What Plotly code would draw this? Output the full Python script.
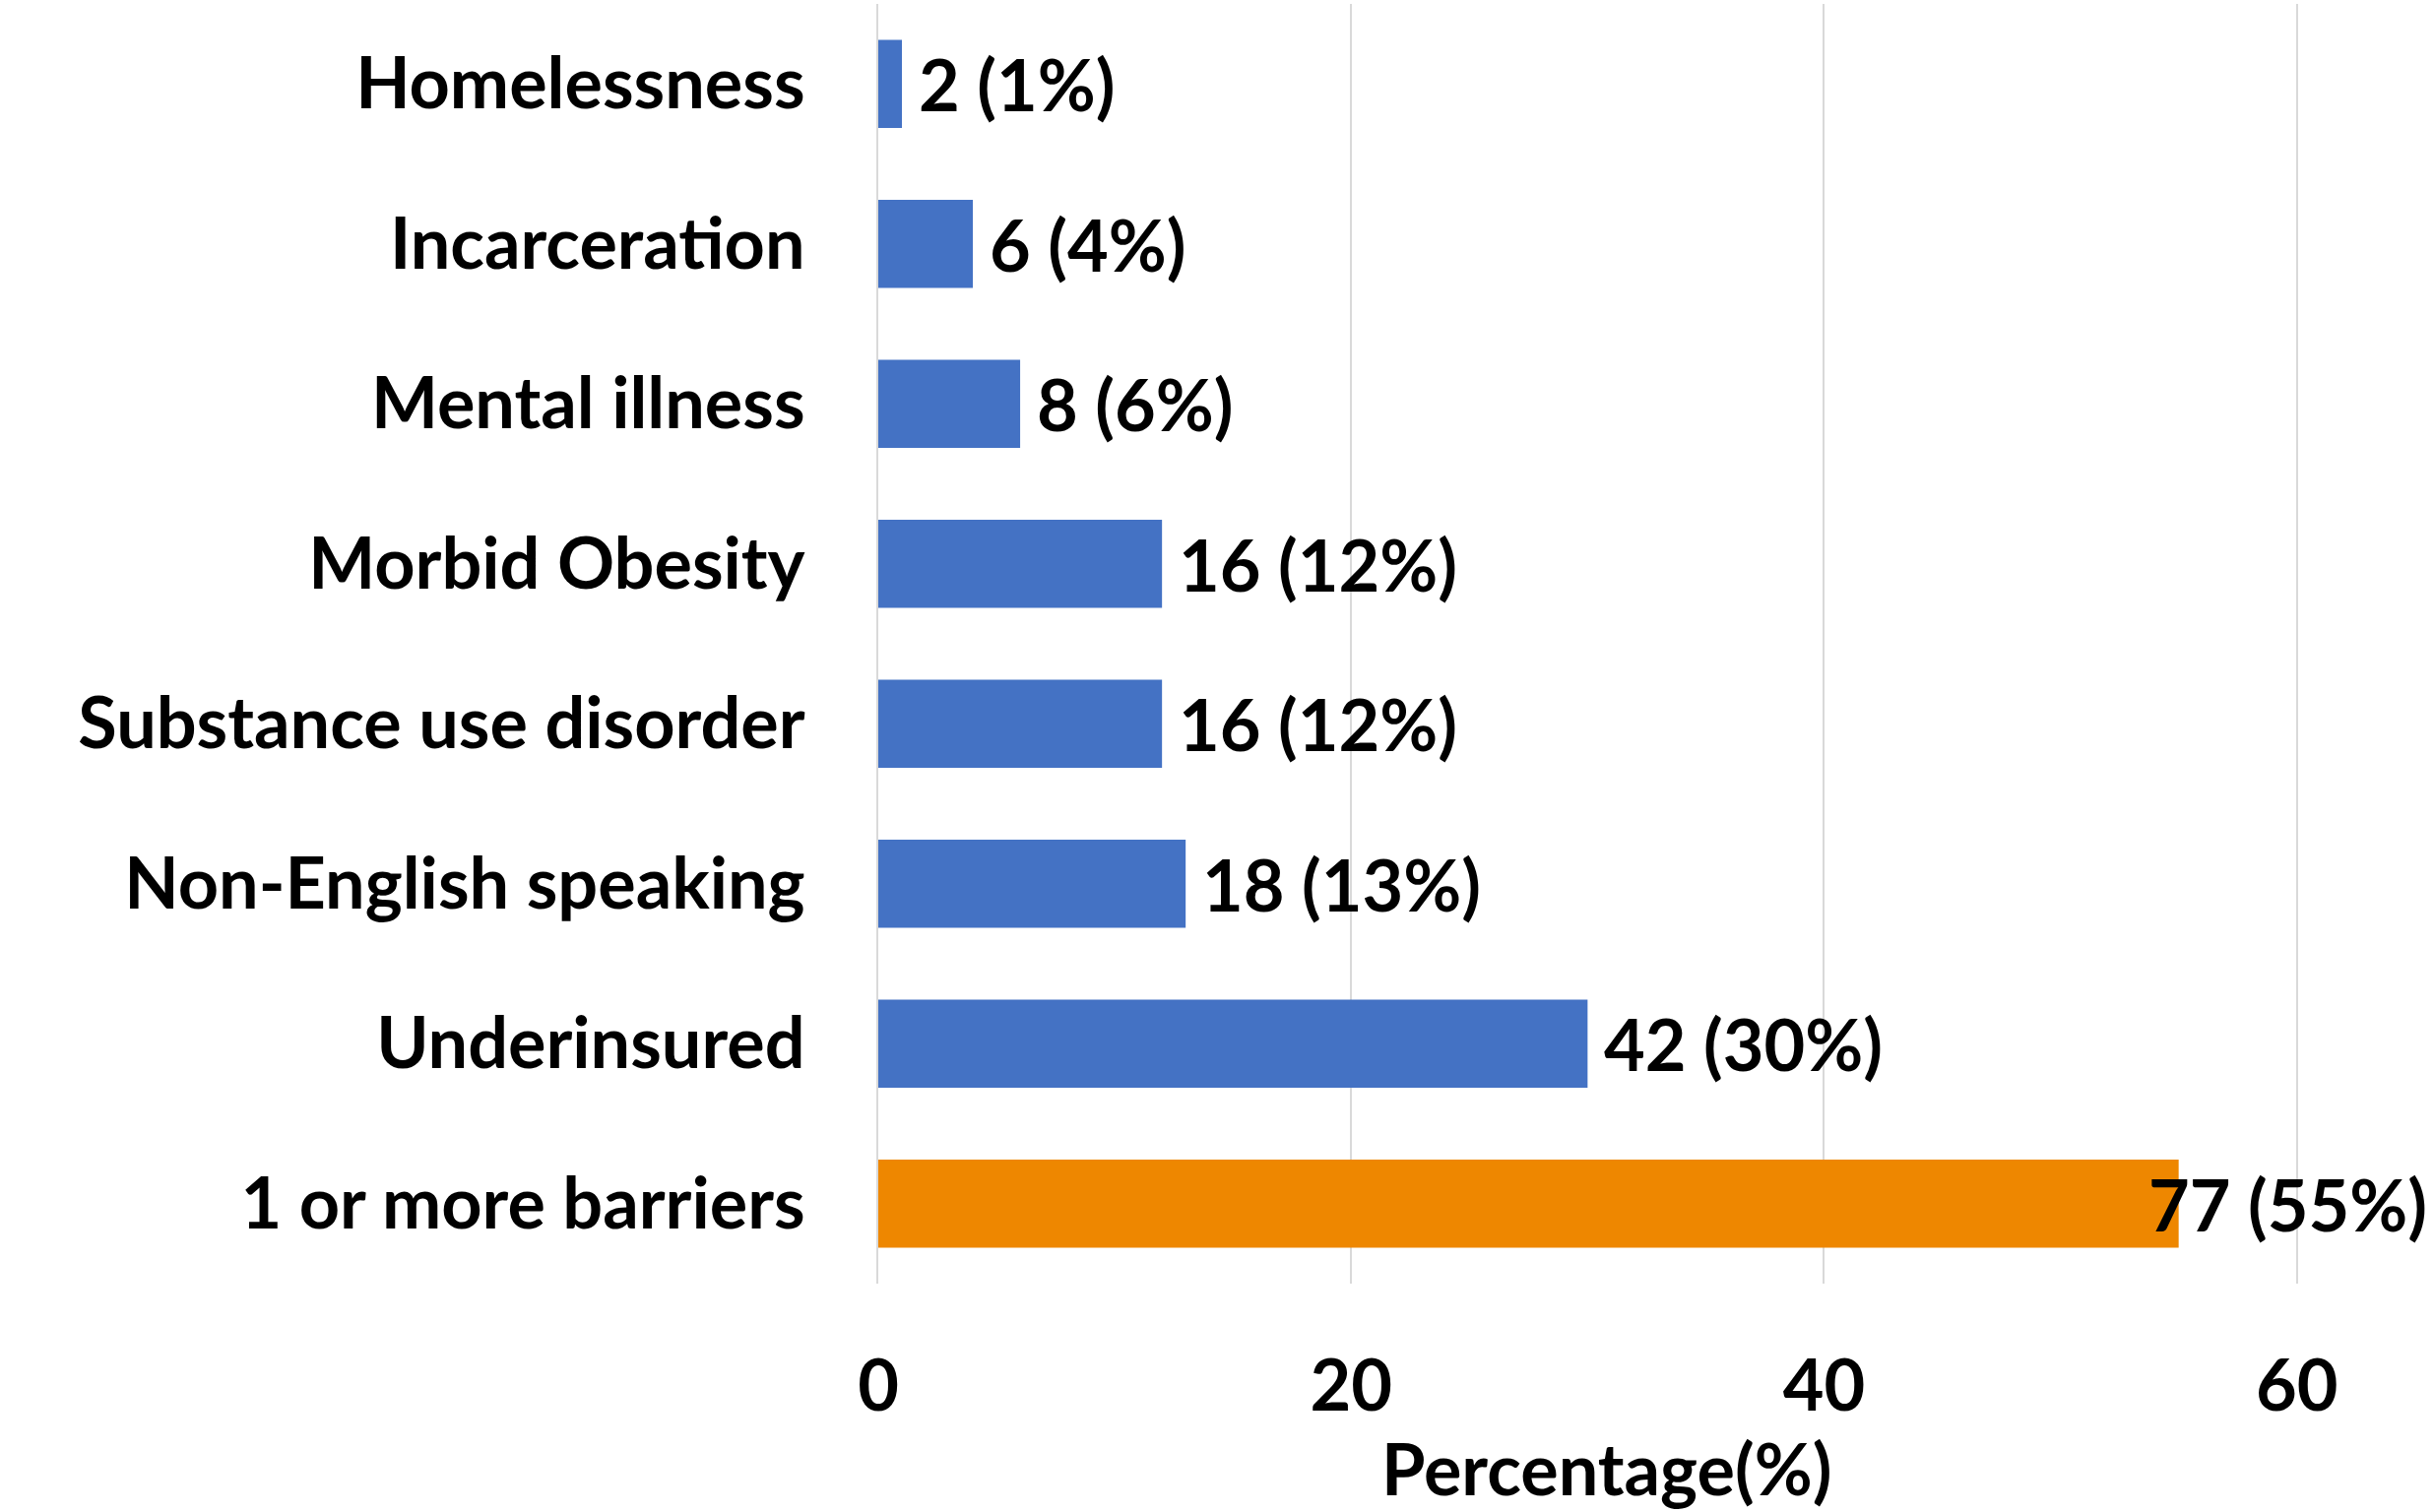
import plotly.graph_objects as go

categories = ["Homelessness", "Incarceration", "Mental illness", "Morbid Obesity",
              "Substance use disorder", "Non-English speaking", "Underinsured",
              "1 or more barriers"]
counts = [2, 6, 8, 16, 16, 18, 42, 77]
percents = [1, 4, 6, 12, 12, 13, 30, 55]
bar_colors = ["#4472C4"] * 7 + ["#EE8700"]
x_ticks = [0, 20, 40, 60]

FONT = dict(family="Lato", size=72, color="black", weight="bold")
XMAX = 65.8

fig = go.Figure()
fig.add_trace(go.Bar(
    y=categories, x=percents, orientation="h",
    marker=dict(color=bar_colors, line=dict(width=0)),
    hoverinfo="skip",
))

annotations = []
for i, (c, n, p) in enumerate(zip(categories, counts, percents)):
    label = f"{n} ({p}%)"
    if i == len(categories) - 1:
        annotations.append(dict(x=XMAX, y=c, xref="x", yref="y", text=label,
                                showarrow=False, xanchor="right", yanchor="middle",
                                xshift=-5, font=FONT))
    else:
        annotations.append(dict(x=p, y=c, xref="x", yref="y", text=label,
                                showarrow=False, xanchor="left", yanchor="middle",
                                xshift=15, font=FONT))

annotations.append(dict(x=0.468, y=0, xref="paper", yref="paper",
                        text="Percentage(%)", showarrow=False,
                        xanchor="center", yanchor="bottom", yshift=-232,
                        font=FONT))

fig.update_layout(
    width=2472, height=1536,
    margin=dict(l=892, r=0, t=4, b=232, autoexpand=False),
    paper_bgcolor="white", plot_bgcolor="white",
    bargap=0.45,
    showlegend=False,
    annotations=annotations,
    font=FONT,
)
fig.update_xaxes(range=[0, XMAX], tickvals=x_ticks, showgrid=True,
                 gridcolor="#D9D9D9", gridwidth=2, zeroline=False,
                 showline=False, ticks="", ticklabelstandoff=56,
                 tickfont=FONT, fixedrange=True)
fig.update_yaxes(categoryorder="array", categoryarray=categories,
                 autorange="reversed", showgrid=False, zeroline=False,
                 showline=True, linecolor="#D9D9D9", linewidth=2,
                 ticks="", ticklabelstandoff=58, tickfont=FONT, fixedrange=True)

fig.write_html("out.html")
